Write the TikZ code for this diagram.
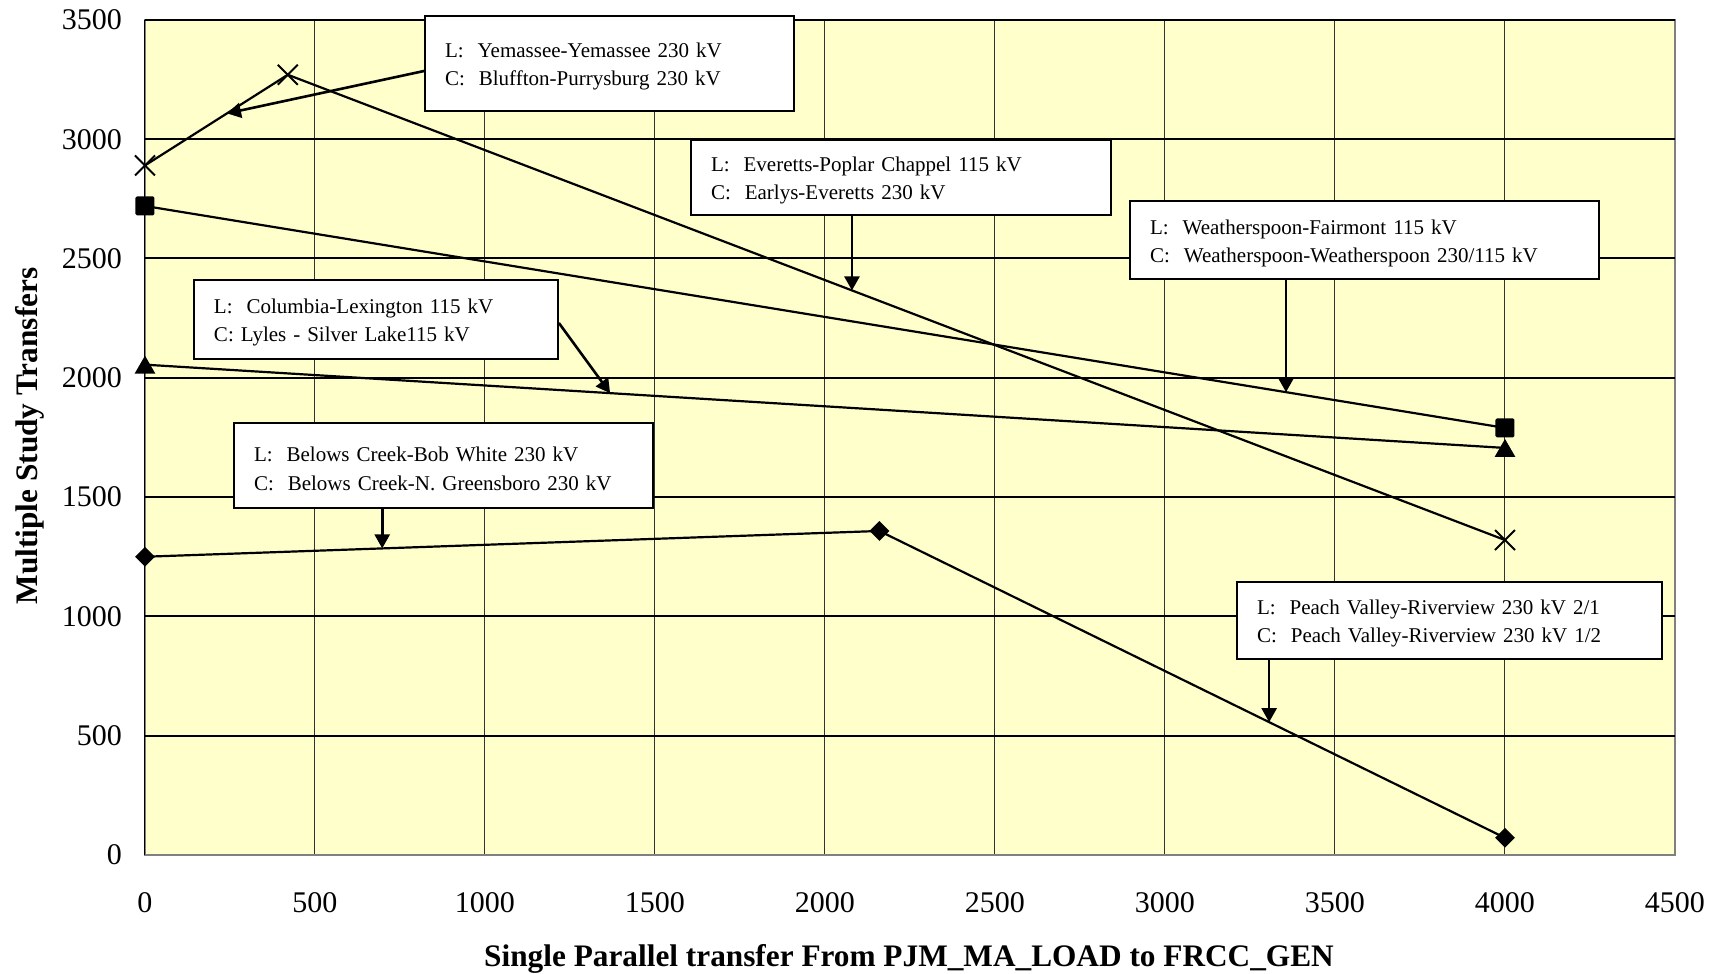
\documentclass[tikz,border=0pt]{standalone}
\usepackage{fontspec}
\setmainfont{Liberation Serif}
\usepackage{tikz}
\usetikzlibrary{shapes.geometric, shapes.misc, arrows.meta, positioning}

\definecolor{plotbg}{RGB}{255,255,204}

\begin{document}
\begin{tikzpicture}[
    x=1pt, y=1pt,
    box/.style={rectangle, draw, line width=1.8pt, fill=white, align=left, inner xsep=20pt, inner ysep=0pt, font=\fontsize{21}{28.5}\selectfont, execute at begin node={\rule{0pt}{21pt}}},
    series/.style={line width=2.2pt},
    pointer/.style={-{Triangle[length=14pt, width=15pt]}, line width=2.6pt},
    xmark/.style={cross out, draw, line width=2pt, minimum size=18pt, inner sep=0pt},
    sqmark/.style={rectangle, fill, rounded corners=1.5pt, minimum size=19pt, inner sep=0pt},
    trimark/.style={regular polygon, regular polygon sides=3, fill, minimum size=24pt, inner sep=0pt, yshift=-3pt},
    dmmark/.style={diamond, fill, minimum size=20pt, inner sep=0pt},
    ticklabel/.style={font=\fontsize{30}{36}\selectfont, inner sep=0pt},
    axistitle/.style={font=\bfseries\fontsize{31.3}{37}\selectfont, inner sep=0pt}
]

\useasboundingbox (-145,-119) rectangle (1580,855);

\begin{scope}[x=0.34pt, y=0.2386pt]
\fill[plotbg] (0,0) rectangle (4500,3500);
\foreach \gx in {500,1000,...,4000}
    \draw[black!80, line width=1pt] (\gx,0) -- (\gx,3500);
\draw[black!50, line width=1.6pt] (0,0) rectangle (4500,3500);
\foreach \gy in {500,1000,...,3500}
    \draw[line width=2pt] (0,\gy) -- (4500,\gy);
\draw[line width=1pt] (0,0) -- (0,3500);

\foreach \v in {0,500,...,3500}
    \node[ticklabel, left=23pt] (ylab\v) at (0,\v) {\v};
\foreach \v in {0,500,...,4500}
    \node[ticklabel, below=37pt] (xlab\v) at (\v,0) {\v};

\coordinate (x1) at (0,2890);
\coordinate (x2) at (420,3270);
\coordinate (x3) at (4000,1320);
\coordinate (s1) at (0,2720);
\coordinate (s2) at (4000,1790);
\coordinate (t1) at (0,2055);
\coordinate (t2) at (4000,1706);
\coordinate (d1) at (0,1250);
\coordinate (d2) at (2160,1358);
\coordinate (d3) at (4000,72);
\end{scope}

\node[axistitle, anchor=base] (xtitle) at (764,-112) {Single Parallel transfer From PJM\_MA\_LOAD to FRCC\_GEN};
\node[axistitle, anchor=base, rotate=90] (ytitle) at (-107.5,419) {Multiple Study Transfers};

\draw[series] (x1) -- coordinate[pos=0.574] (tipA) (x2) -- coordinate[pos=0.4635] (tipB) (x3);
\draw[series] (s1) -- coordinate[pos=0.839] (tipC) (s2);
\draw[series] (t1) -- coordinate[pos=0.342] (tipD) (t2);
\draw[series] (d1) -- coordinate[pos=0.323] (tipE) (d2) -- coordinate[pos=0.623] (tipF) (d3);

\foreach \p in {x1,x2,x3}
    \node[xmark] (m\p) at (\p) {};
\foreach \p in {s1,s2}
    \node[sqmark] (m\p) at (\p) {};
\foreach \p in {t1,t2}
    \node[trimark] (m\p) at (\p) {};
\foreach \p in {d1,d2,d3}
    \node[dmmark] (m\p) at (\p) {};

\node[box, text width=329pt, minimum height=95pt] (yemassee) at (464.5,791.5) {L:\ \ Yemassee-Yemassee 230 kV\\C:\ \ Bluffton-Purrysburg 230 kV};
\node[box, text width=380pt, minimum height=75pt] (everetts) at (756,677.5) {L:\ \ Everetts-Poplar Chappel 115 kV\\C:\ \ Earlys-Everetts 230 kV};
\node[box, text width=429pt, minimum height=78pt] (weatherspoon) at (1219.5,615) {L:\ \ Weatherspoon-Fairmont 115 kV\\C:\ \ Weatherspoon-Weatherspoon 230/115 kV};
\node[box, text width=324pt, minimum height=79pt] (columbia) at (231,535.5) {L:\ \ Columbia-Lexington 115 kV\\C: Lyles - Silver Lake115 kV};
\node[box, text width=379pt, minimum height=85pt] (belows) at (298.5,389.5) {L:\ \ Belows Creek-Bob White 230 kV\\C:\ \ Belows Creek-N. Greensboro 230 kV};
\node[box, text width=385pt, minimum height=77pt] (peach) at (1304.5,234.5) {L:\ \ Peach Valley-Riverview 230 kV 2/1\\C:\ \ Peach Valley-Riverview 230 kV 1/2};

\draw[pointer] ([yshift=-7.5pt]yemassee.west) -- (tipA);
\draw[pointer] (everetts.south -| tipB) -- (tipB);
\draw[pointer] (weatherspoon.south -| tipC) -- (tipC);
\draw[pointer] ([yshift=-3.5pt]columbia.east) -- (tipD);
\draw[pointer] (belows.south -| tipE) -- (tipE);
\draw[pointer] (peach.south -| tipF) -- (tipF);

\end{tikzpicture}
\end{document}
